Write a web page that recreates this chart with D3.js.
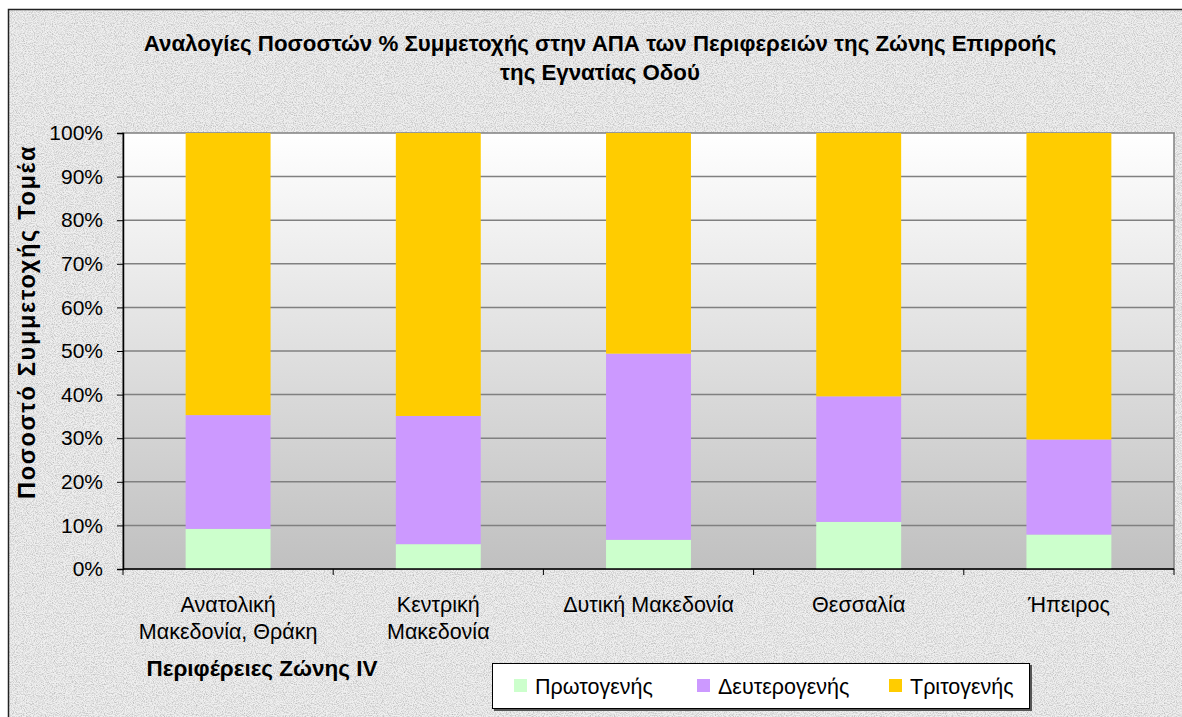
<!DOCTYPE html>
<html lang="el">
<head>
<meta charset="UTF-8">
<title>Αναλογίες Ποσοστών % Συμμετοχής στην ΑΠΑ</title>
<script src="https://d3js.org/d3.v7.min.js"></script>
<style>
  body { margin: 0; background: #fff; }
  svg { display: block; }
  text { font-family: "Liberation Sans", Arial, sans-serif; fill: #000; }
  .bold { font-weight: bold; }
</style>
</head>
<body>
<svg></svg>
<script>
const [width, height] = [1182, 717]

// data
const categories = ["Ανατολική Μακεδονία, Θράκη", "Κεντρική Μακεδονία", "Δυτική Μακεδονία", "Θεσσαλία", "Ήπειρος"]
const categoryLines = [["Ανατολική", "Μακεδονία, Θράκη"], ["Κεντρική", "Μακεδονία"], ["Δυτική Μακεδονία"], ["Θεσσαλία"], ["Ήπειρος"]]
const seriesNames = ["Πρωτογενής", "Δευτερογενής", "Τριτογενής"]
const primary   = [9.2, 5.7, 6.7, 10.8, 7.9]
const secondary = [26.1, 29.4, 42.7, 28.8, 21.8]
const tertiary  = [64.7, 64.9, 50.6, 60.4, 70.3]
const yTicks = [0, 10, 20, 30, 40, 50, 60, 70, 80, 90, 100]
const colors = ["#CCFFCC", "#CC99FF", "#FFCC00"]

const title1 = "Αναλογίες Ποσοστών % Συμμετοχής στην ΑΠΑ των Περιφερειών της Ζώνης Επιρροής"
const title2 = "της Εγνατίας Οδού"
const yTitle = "Ποσοστό Συμμετοχής Τομέα"
const xTitle = "Περιφέρειες Ζώνης IV"

const rows = categories.map((c, i) => ({
  cat: c, [seriesNames[0]]: primary[i], [seriesNames[1]]: secondary[i], [seriesNames[2]]: tertiary[i]
}))

const svg = d3.select("svg").attr("width", width).attr("height", height)
const defs = svg.append("defs")

// granite-like background texture
const grain = defs.append("filter").attr("id", "grain")
  .attr("x", 0).attr("y", 0).attr("width", "100%").attr("height", "100%")
grain.append("feTurbulence").attr("type", "fractalNoise")
  .attr("baseFrequency", 0.9).attr("numOctaves", 3).attr("seed", 7)
grain.append("feColorMatrix").attr("type", "matrix")
  .attr("values", "0 0 0 0 0.45  0 0 0 0 0.45  0 0 0 0 0.45  1.8 0 0 0 -0.7")
grain.append("feComposite").attr("in2", "SourceGraphic").attr("operator", "in")

const grad = defs.append("linearGradient").attr("id", "plotbg")
  .attr("x1", 0).attr("y1", 0).attr("x2", 0).attr("y2", 1)
grad.append("stop").attr("offset", 0).attr("stop-color", "#ffffff")
grad.append("stop").attr("offset", 1).attr("stop-color", "#c0c0c0")

svg.append("rect").attr("width", width).attr("height", height).attr("fill", "#fff")
svg.append("rect").attr("x", 8).attr("y", 9).attr("width", 1200).attr("height", 720)
  .attr("fill", "#f0f0f0")
svg.append("rect").attr("x", 8).attr("y", 9).attr("width", 1200).attr("height", 720)
  .attr("fill", "#f0f0f0").attr("filter", "url(#grain)")
svg.append("rect").attr("x", 8.5).attr("y", 9.5).attr("width", 1200).attr("height", 720)
  .attr("fill", "none").attr("stroke", "#222").attr("stroke-width", 1.5)

// plot area
const plot = {left: 123, right: 1174, top: 133, bottom: 569}

const x = d3.scaleBand().domain(categories)
  .range([plot.left, plot.right]).paddingInner(0.596).paddingOuter(0.298)
const y = d3.scaleLinear().domain([0, 100]).range([plot.bottom, plot.top])

svg.append("rect").attr("x", plot.left).attr("y", plot.top)
  .attr("width", plot.right - plot.left).attr("height", plot.bottom - plot.top)
  .attr("fill", "url(#plotbg)").attr("stroke", "#808080").attr("stroke-width", 1.5)

svg.append("g").selectAll("line").data(yTicks.filter(d => d > 0 && d < 100)).join("line")
  .attr("x1", plot.left).attr("x2", plot.right)
  .attr("y1", d => y(d)).attr("y2", d => y(d))
  .attr("stroke", "#808080").attr("stroke-width", 1.5)

// bars
const stack = d3.stack().keys(seriesNames)(rows)
svg.append("g").selectAll("g").data(stack).join("g")
  .attr("fill", (d, i) => colors[i])
  .selectAll("rect").data(d => d).join("rect")
  .attr("x", d => x(d.data.cat))
  .attr("width", x.bandwidth())
  .attr("y", d => y(d[1]))
  .attr("height", d => y(d[0]) - y(d[1]))

// y axis
const yAxis = svg.append("g").attr("transform", `translate(${plot.left},0)`)
  .call(d3.axisLeft(y).tickValues(yTicks).tickFormat(d => d + "%").tickSize(6).tickPadding(14))
yAxis.select(".domain").attr("stroke", "#000").attr("stroke-width", 1.5)
yAxis.selectAll(".tick line").attr("stroke", "#000")
yAxis.selectAll("text").attr("font-size", 21).attr("font-family", "Liberation Sans, Arial, sans-serif")
  .attr("fill", "#000")

// x axis
const xg = svg.append("g")
xg.append("line").attr("x1", plot.left).attr("x2", plot.right)
  .attr("y1", plot.bottom).attr("y2", plot.bottom).attr("stroke", "#000").attr("stroke-width", 1.5)
const bounds = d3.range(categories.length + 1).map(i => x.range()[0] + i * x.step())
xg.selectAll("line.tk").data(bounds).join("line").attr("class", "tk")
  .attr("x1", d => d).attr("x2", d => d)
  .attr("y1", plot.bottom).attr("y2", plot.bottom + 6).attr("stroke", "#000")
const xl = xg.selectAll("text").data(categories).join("text")
  .attr("x", d => x(d) + x.bandwidth() / 2)
  .attr("y", 612).attr("text-anchor", "middle").attr("font-size", 21.5)
xl.selectAll("tspan").data((d, i) => categoryLines[i]).join("tspan")
  .attr("x", function() { return this.parentNode.getAttribute("x") })
  .attr("dy", (d, i) => i ? 27 : 0).text(d => d)

// titles
svg.append("text").attr("class", "bold").attr("x", 600).attr("y", 51)
  .attr("text-anchor", "middle").attr("font-size", 22.3).text(title1)
svg.append("text").attr("class", "bold").attr("x", 600).attr("y", 80)
  .attr("text-anchor", "middle").attr("font-size", 22.3).text(title2)
svg.append("text").attr("class", "bold")
  .attr("transform", "translate(35,322) rotate(-90)")
  .attr("text-anchor", "middle").attr("font-size", 23.5).attr("letter-spacing", 1.7).text(yTitle)
svg.append("text").attr("class", "bold").attr("x", 262).attr("y", 676)
  .attr("text-anchor", "middle").attr("font-size", 22.5).text(xTitle)

// legend
const lg = svg.append("g").attr("transform", "translate(492,663)")
lg.append("rect").attr("x", 2).attr("y", 2).attr("width", 538).attr("height", 46).attr("fill", "#555")
lg.append("rect").attr("x", 0.5).attr("y", 0.5).attr("width", 537).attr("height", 45)
  .attr("fill", "#fff").attr("stroke", "#000")
const legendX = [22, 205, 397]
const items = lg.selectAll("g.item").data(seriesNames).join("g").attr("class", "item")
  .attr("transform", (d, i) => `translate(${legendX[i]},0)`)
items.append("rect").attr("y", 16).attr("width", 13).attr("height", 13).attr("fill", (d, i) => colors[i])
items.append("text").attr("x", 21).attr("y", 31).attr("font-size", 21.5).text(d => d)
</script>
</body>
</html>
